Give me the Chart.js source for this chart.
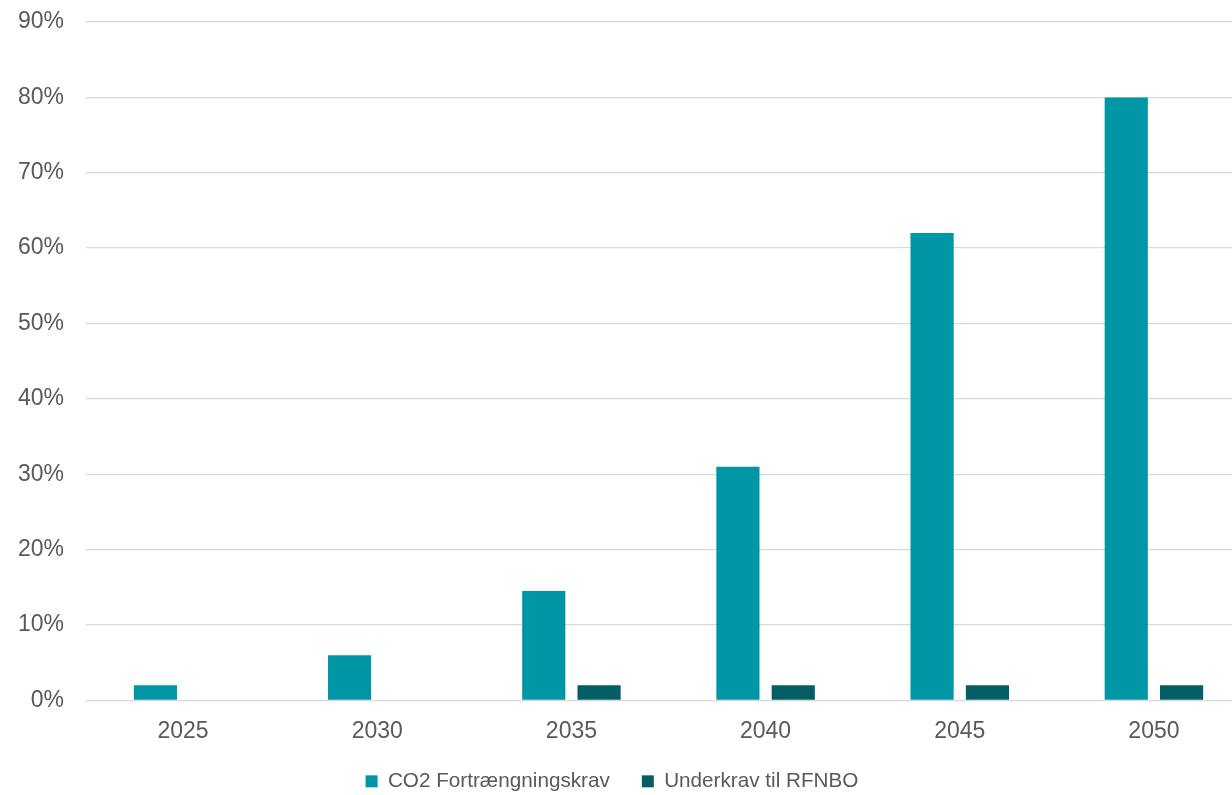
<!DOCTYPE html>
<html>
<head>
<meta charset="utf-8">
<script src="https://cdn.jsdelivr.net/npm/chart.js@4/dist/chart.umd.min.js"></script>
<style>
  html, body { margin: 0; padding: 0; background: #fff; overflow: hidden; }
  #wrap { width: 1251px; height: 795px; }
</style>
</head>
<body>
<div id="wrap"><canvas id="myChart" width="1251" height="795"></canvas></div>
<script>
const years = ['2025', '2030', '2035', '2040', '2045', '2050'];
const co2Krav = [2, 6, 14.5, 31, 62, 80];       // CO2 Fortrængningskrav (%)
const rfnboKrav = [null, null, 2, 2, 2, 2];      // Underkrav til RFNBO (%)
const yTicks = [0, 10, 20, 30, 40, 50, 60, 70, 80, 90];

const fontFamily = 'Arial, "Liberation Sans", sans-serif';
const textColor = '#595959';

// nudge the legend: the original sits left of centre and a bit higher
// (only the top moves, so the clip box stays tall enough for the text)
const legendShift = {
    id: 'legendShift',
    afterLayout(chart) {
        const lg = chart.legend;
        if (!lg) return;
        lg.left -= 22; lg.right -= 22;
        lg.top -= 23;
    }
};

const ctx = document.getElementById('myChart').getContext('2d');

const myChart = new Chart(ctx, {
    type: 'bar',
    data: {
        labels: years,
        datasets: [{
            label: 'CO2 Fortrængningskrav',
            data: co2Krav,
            backgroundColor: '#0096A6',
            borderWidth: 0,
            categoryPercentage: 0.57,
            barPercentage: 0.78
        }, {
            label: 'Underkrav til RFNBO',
            data: rfnboKrav,
            backgroundColor: '#035E66',
            borderWidth: 0,
            categoryPercentage: 0.57,
            barPercentage: 0.78
        }]
    },
    options: {
        responsive: false,
        animation: false,
        layout: {
            padding: { top: 22, left: 17, right: 0, bottom: 0 }
        },
        plugins: {
            legend: {
                display: true,
                position: 'bottom',
                maxHeight: 33,
                labels: {
                    boxWidth: 12,
                    boxHeight: 12,
                    padding: 32,
                    color: textColor,
                    font: { family: fontFamily, size: 20.7 }
                }
            },
            tooltip: { enabled: false }
        },
        scales: {
            x: {
                grid: { display: false, drawTicks: false },
                border: { display: false },
                ticks: {
                    color: textColor,
                    padding: 17,
                    font: { family: fontFamily, size: 23 }
                }
            },
            y: {
                min: 0,
                max: 90,
                afterBuildTicks(axis) {
                    axis.ticks = yTicks.map(v => ({ value: v }));
                },
                afterFit(axis) {
                    axis.width = 69;
                },
                grid: {
                    color: '#d9d9d9',
                    lineWidth: 1.3,
                    drawTicks: true,
                    tickLength: 22,
                    tickColor: 'rgba(0,0,0,0)'
                },
                border: { display: false },
                ticks: {
                    color: textColor,
                    padding: 0,
                    font: { family: fontFamily, size: 23 },
                    callback: v => v + '%'
                }
            }
        }
    },
    plugins: [legendShift]
});
</script>
</body>
</html>
